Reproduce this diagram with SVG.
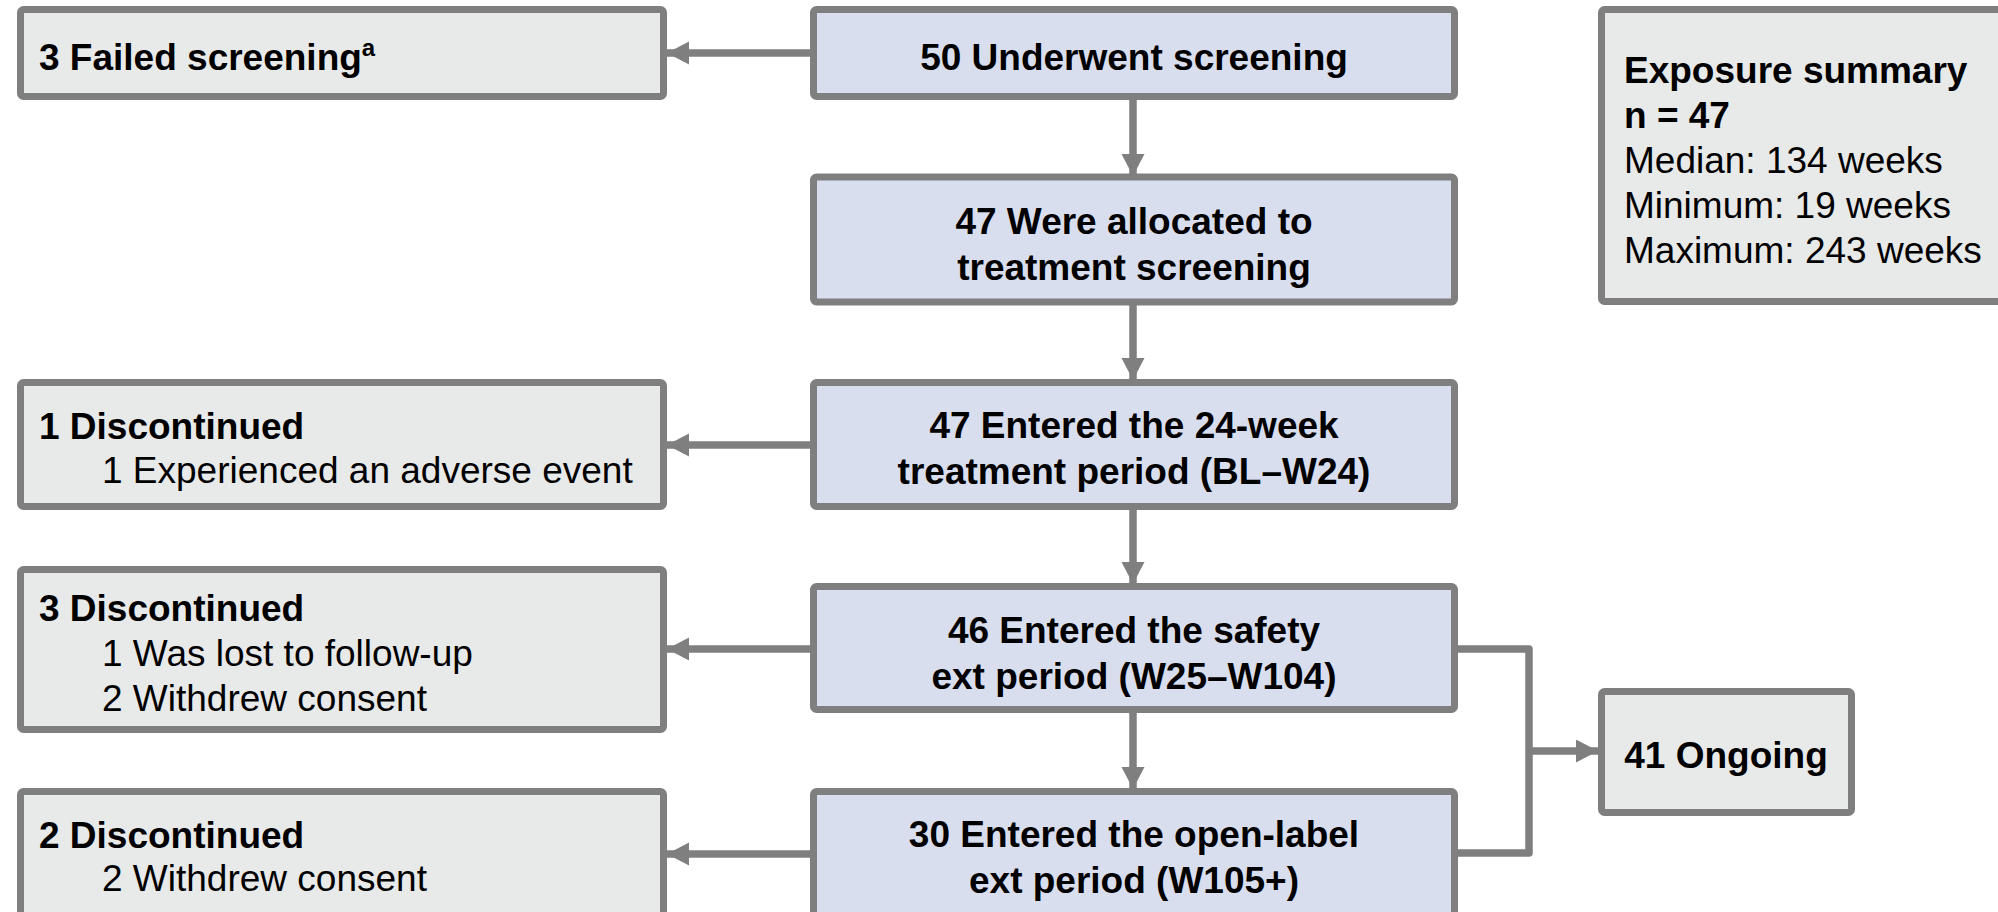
<svg xmlns="http://www.w3.org/2000/svg" width="1998" height="912" viewBox="0 0 1998 912">
<style>
.box{stroke:#7f7f7f;stroke-width:7;}
.main{fill:#d9deee;}
.side{fill:#e8e9e9;}
text{font-family:"Liberation Sans",Arial,sans-serif;font-size:37px;fill:#000;}
.b{font-weight:bold;}
.c{text-anchor:middle;}
.conn{stroke:#7f7f7f;stroke-width:7.5;fill:none;stroke-linejoin:round;}
</style>
<defs>
<marker id="arr" markerUnits="userSpaceOnUse" markerWidth="24" markerHeight="24" refX="22" refY="11.5" orient="auto">
<path d="M0,0 L22,11.5 L0,23 z" fill="#7f7f7f"/>
</marker>
</defs>
<rect width="1998" height="912" fill="#fff"/>
<g id="connectors">
<line class="conn" x1="812" y1="53" x2="667" y2="53" marker-end="url(#arr)"/>
<line class="conn" x1="1133" y1="98" x2="1133" y2="176" marker-end="url(#arr)"/>
<line class="conn" x1="1133" y1="304" x2="1133" y2="380" marker-end="url(#arr)"/>
<line class="conn" x1="812" y1="445" x2="667" y2="445" marker-end="url(#arr)"/>
<line class="conn" x1="1133" y1="508" x2="1133" y2="584" marker-end="url(#arr)"/>
<line class="conn" x1="812" y1="649" x2="667" y2="649" marker-end="url(#arr)"/>
<line class="conn" x1="1133" y1="711" x2="1133" y2="789" marker-end="url(#arr)"/>
<line class="conn" x1="812" y1="854" x2="667" y2="854" marker-end="url(#arr)"/>
<polyline class="conn" points="1456,649 1529,649 1529,853 1456,853"/>
<line class="conn" x1="1529" y1="751" x2="1598" y2="751" marker-end="url(#arr)"/>
</g>
<g id="failed">
<rect class="box side" x="20.5" y="9.5" width="643" height="87" rx="3"/>
<text class="b" x="39" y="70">3 Failed screening<tspan font-size="24" dy="-14">a</tspan></text>
</g>
<g id="underwent">
<rect class="box main" x="813.5" y="9.5" width="641" height="87" rx="3"/>
<text class="b c" x="1134" y="70">50 Underwent screening</text>
</g>
<g id="allocated">
<rect class="box main" x="813.5" y="177" width="641" height="125" rx="3"/>
<text class="b c" x="1134" y="234">47 Were allocated to</text>
<text class="b c" x="1134" y="280">treatment screening</text>
</g>
<g id="exposure">
<rect class="box side" x="1601.5" y="9.5" width="500" height="292" rx="3"/>
<text class="b" x="1624" y="83">Exposure summary</text>
<text class="b" x="1624" y="128">n = 47</text>
<text x="1624" y="173">Median: 134 weeks</text>
<text x="1624" y="218">Minimum: 19 weeks</text>
<text x="1624" y="263">Maximum: 243 weeks</text>
</g>
<g id="week24">
<rect class="box main" x="813.5" y="382.5" width="641" height="124" rx="3"/>
<text class="b c" x="1134" y="438">47 Entered the 24-week</text>
<text class="b c" x="1134" y="484">treatment period (BL–W24)</text>
</g>
<g id="disc1">
<rect class="box side" x="20.5" y="382.5" width="643" height="124" rx="3"/>
<text class="b" x="39" y="439">1 Discontinued</text>
<text x="102" y="483">1 Experienced an adverse event</text>
</g>
<g id="safety">
<rect class="box main" x="813.5" y="586.5" width="641" height="123" rx="3"/>
<text class="b c" x="1134" y="643">46 Entered the safety</text>
<text class="b c" x="1134" y="689">ext period (W25–W104)</text>
</g>
<g id="disc3">
<rect class="box side" x="20.5" y="569.5" width="643" height="160" rx="3"/>
<text class="b" x="39" y="621">3 Discontinued</text>
<text x="102" y="666">1 Was lost to follow-up</text>
<text x="102" y="711">2 Withdrew consent</text>
</g>
<g id="ongoing">
<rect class="box side" x="1601.5" y="691.5" width="250" height="121" rx="3"/>
<text class="b c" x="1726" y="768">41 Ongoing</text>
</g>
<g id="openlabel">
<rect class="box main" x="813.5" y="791.5" width="641" height="130" rx="3"/>
<text class="b c" x="1134" y="847">30 Entered the open-label</text>
<text class="b c" x="1134" y="893">ext period (W105+)</text>
</g>
<g id="disc2">
<rect class="box side" x="20.5" y="791.5" width="643" height="130" rx="3"/>
<text class="b" x="39" y="848">2 Discontinued</text>
<text x="102" y="891">2 Withdrew consent</text>
</g>
</svg>
